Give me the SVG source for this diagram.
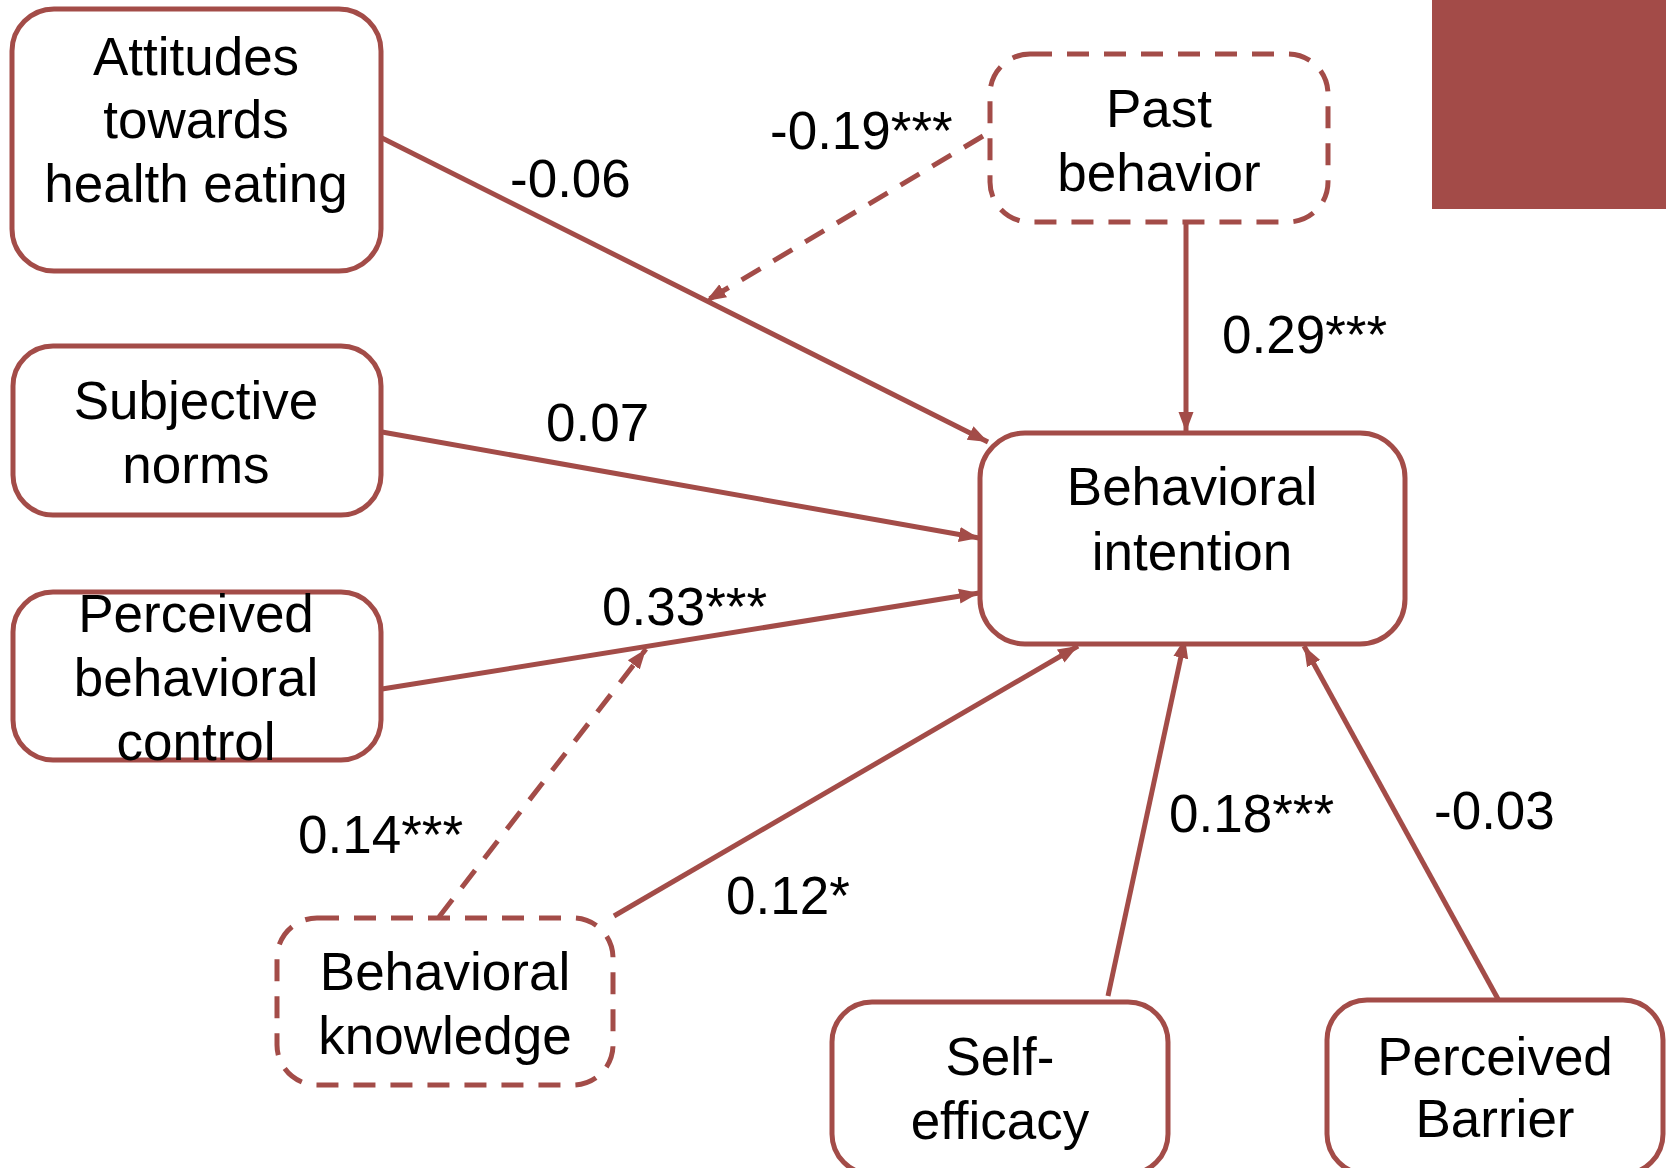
<svg xmlns="http://www.w3.org/2000/svg" width="1666" height="1168" viewBox="0 0 1666 1168">
<defs>
<style>
.box{fill:#ffffff;stroke:#A34C48;stroke-width:5}
.dash{stroke-dasharray:22 15}
.lbl{font-family:"Liberation Sans",Arial,sans-serif;font-size:53px;fill:#000000}
.mid{text-anchor:middle}
.edge{fill:none;stroke:#A34C48;stroke-width:5}
</style>
<marker id="arr" markerUnits="userSpaceOnUse" markerWidth="22" markerHeight="22" viewBox="0 0 22 22" refX="20" refY="11" orient="auto">
<path d="M0,3.5 L20,11 L0,18.5 Z" fill="#A34C48"/>
</marker>
</defs>
<rect width="1666" height="1168" fill="#ffffff"/>
<rect x="1432" y="0" width="234" height="209" fill="#A34B48"/>

<g id="connectors">
<line class="edge" x1="382" y1="138" x2="988" y2="442" marker-end="url(#arr)"/>
<line class="edge dash" x1="983" y1="136" x2="706" y2="301" marker-end="url(#arr)"/>
<line class="edge" x1="1186" y1="223" x2="1186" y2="432" marker-end="url(#arr)"/>
<line class="edge" x1="382" y1="432" x2="979" y2="538" marker-end="url(#arr)"/>
<line class="edge" x1="382" y1="689" x2="979" y2="593" marker-end="url(#arr)"/>
<line class="edge dash" x1="439" y1="917" x2="646" y2="649" marker-end="url(#arr)"/>
<line class="edge" x1="614" y1="916" x2="1078" y2="646" marker-end="url(#arr)"/>
<line class="edge" x1="1108" y1="996" x2="1185" y2="638" marker-end="url(#arr)"/>
<line class="edge" x1="1498" y1="999" x2="1304" y2="646" marker-end="url(#arr)"/>
<text class="lbl" x="510" y="197">-0.06</text>
<text class="lbl" x="770" y="149">-0.19***</text>
<text class="lbl" x="1222" y="353">0.29***</text>
<text class="lbl" x="546" y="441">0.07</text>
<text class="lbl" x="602" y="625">0.33***</text>
<text class="lbl" x="298" y="853">0.14***</text>
<text class="lbl" x="726" y="914">0.12*</text>
<text class="lbl" x="1169" y="832">0.18***</text>
<text class="lbl" x="1434" y="829">-0.03</text>
</g>

<g id="attitudes">
<rect class="box" x="12" y="9" width="369" height="262" rx="42"/>
<text class="lbl mid" x="196" y="75">Attitudes</text>
<text class="lbl mid" x="196" y="138">towards</text>
<text class="lbl mid" x="196" y="202">health eating</text>
</g>

<g id="past-behavior">
<rect class="box dash" x="990" y="54" width="338" height="168" rx="40"/>
<text class="lbl mid" x="1159" y="127">Past</text>
<text class="lbl mid" x="1159" y="191">behavior</text>
</g>

<g id="subjective-norms">
<rect class="box" x="13" y="346" width="368" height="169" rx="40"/>
<text class="lbl mid" x="196" y="419">Subjective</text>
<text class="lbl mid" x="196" y="483">norms</text>
</g>

<g id="perceived-behavioral-control">
<rect class="box" x="13" y="592" width="368" height="168" rx="40"/>
<text class="lbl mid" x="196" y="632">Perceived</text>
<text class="lbl mid" x="196" y="696">behavioral</text>
<text class="lbl mid" x="196" y="760">control</text>
</g>

<g id="behavioral-intention">
<rect class="box" x="980" y="433" width="425" height="211" rx="45"/>
<text class="lbl mid" x="1192" y="505">Behavioral</text>
<text class="lbl mid" x="1192" y="570">intention</text>
</g>

<g id="behavioral-knowledge">
<rect class="box dash" x="277" y="918" width="336" height="167" rx="40"/>
<text class="lbl mid" x="445" y="990">Behavioral</text>
<text class="lbl mid" x="445" y="1054">knowledge</text>
</g>

<g id="self-efficacy">
<rect class="box" x="832" y="1002" width="336" height="172" rx="40"/>
<text class="lbl mid" x="1000" y="1075">Self-</text>
<text class="lbl mid" x="1000" y="1139">efficacy</text>
</g>

<g id="perceived-barrier">
<rect class="box" x="1327" y="1000" width="336" height="174" rx="40"/>
<text class="lbl mid" x="1495" y="1075">Perceived</text>
<text class="lbl mid" x="1495" y="1137">Barrier</text>
</g>
</svg>
